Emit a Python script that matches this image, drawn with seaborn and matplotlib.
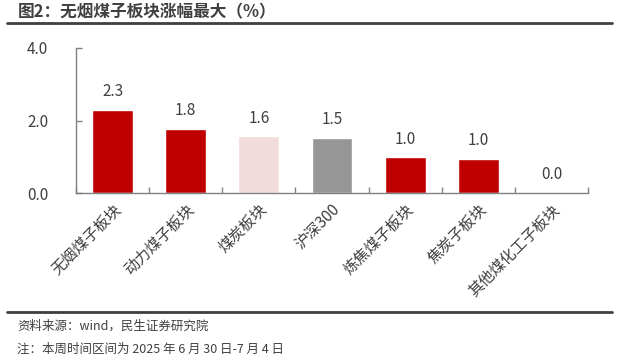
import matplotlib
matplotlib.use("Agg")
import matplotlib.pyplot as plt
import seaborn as sns
import pandas as pd
from matplotlib.lines import Line2D

# Data
categories = ["无烟煤子板块", "动力煤子板块", "煤炭板块", "沪深300", "炼焦煤子板块", "焦炭子板块", "其他煤化工子板块"]
values = [2.29, 1.77, 1.57, 1.52, 0.99, 0.94, 0.0]
labels = ["2.3", "1.8", "1.6", "1.5", "1.0", "1.0", "0.0"]
colors = ["#C00000", "#C00000", "#F2DCDB", "#969696", "#C00000", "#C00000", "#C00000"]
yticks = [0.0, 2.0, 4.0]

title = "图2：无烟煤子板块涨幅最大（%）"
source = "资料来源：wind，民生证券研究院"
note = "注：本周时间区间为 2025 年 6 月 30 日-7 月 4 日"

sns.set_theme(style = "white")
plt.rcParams["font.family"] = ["Noto Sans CJK SC", "DejaVu Sans"]

df = pd.DataFrame({"cat": categories, "val": values})

fig = plt.figure(figsize = (6.19, 3.59), dpi = 100)
ax = fig.add_axes([76 / 619, 1 - 193 / 359, 512 / 619, 145 / 359])

sns.barplot(data = df, x = "cat", y = "val", hue = "cat", palette = colors,
            width = 0.56, saturation = 1, legend = False, ax = ax)

for i, (v, t) in enumerate(zip(values, labels)):
    ax.annotate(t, (i, v), xytext = (0, 13), textcoords = "offset points",
                ha = "center", va = "center", fontsize = 11, color = "#404040")

ax.set_xlim(-0.5, len(categories) - 0.5)
ax.set_ylim(0, 4)
ax.set_yticks(yticks)
ax.set_yticklabels([f"{t:.1f}" for t in yticks])
ax.set_xlabel("")
ax.set_ylabel("")

ax.set_xticks(range(len(categories)))
ax.set_xticklabels(categories, rotation = 45, ha = "right", rotation_mode = "anchor")
ax.set_xticks([i - 0.5 for i in range(len(categories) + 1)], minor = True)
ax.tick_params(axis = "x", which = "major", length = 0, pad = 6, labelsize = 11, labelcolor = "#404040")
ax.tick_params(axis = "x", which = "minor", direction = "in", length = 4, width = 1, color = "#808080", bottom = True)
ax.tick_params(axis = "y", direction = "in", length = 4, width = 1, color = "#808080", left = True,
               labelsize = 11, labelcolor = "#404040", pad = 20)

for s in ["top", "right"]:
    ax.spines[s].set_visible(False)
for s in ["left", "bottom"]:
    ax.spines[s].set_color("#808080")
    ax.spines[s].set_linewidth(1)

# Title, rules and footer
fig.text(18 / 619, 1 - 12 / 359, title, fontsize = 12, fontweight = "bold", color = "#404040",
         ha = "left", va = "center")
fig.add_artist(Line2D([7 / 619, 612 / 619], [1 - 23 / 359, 1 - 23 / 359], color = "#404040", linewidth = 2))
fig.add_artist(Line2D([7 / 619, 612 / 619], [1 - 312 / 359, 1 - 312 / 359], color = "#404040", linewidth = 2))
fig.text(17 / 619, 1 - 326 / 359, source, fontsize = 9, color = "#404040", ha = "left", va = "center")
fig.text(17 / 619, 1 - 349 / 359, note, fontsize = 9, color = "#404040", ha = "left", va = "center")

fig.savefig("out.png", dpi = 100)
print("Chart saved")
